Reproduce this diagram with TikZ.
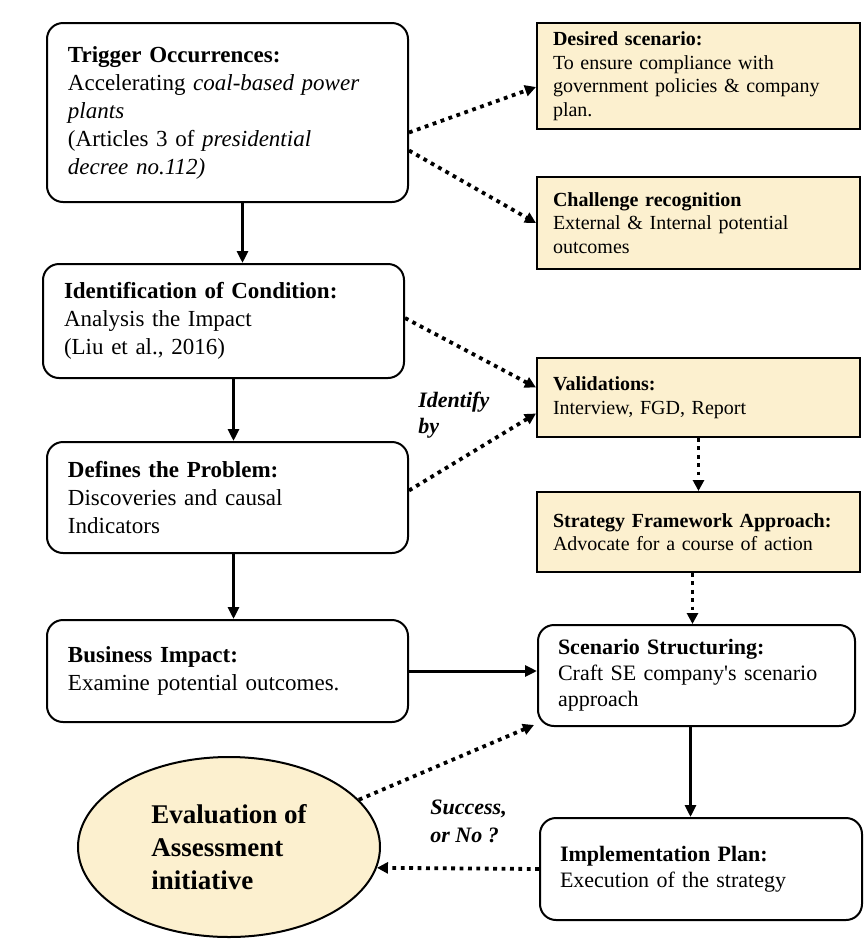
\documentclass[tikz,border=0pt]{standalone}
\usepackage{fontspec}
\setmainfont{Liberation Serif}
\usetikzlibrary{arrows.meta,shapes.geometric}
\definecolor{notefill}{RGB}{252,240,207}

\begin{document}
\begin{tikzpicture}[x=0.5pt,y=-0.5pt,
        stepbox/.style={draw, line width=1pt, rounded corners=8pt, align=left,
            inner xsep=10.5pt, text width=159.5pt,
            font=\fontsize{11.5}{14}\selectfont},
        notebox/.style={draw, line width=1pt, fill=notefill, align=left,
            inner xsep=8pt, text width=145.5pt,
            font=\fontsize{10}{11.8}\selectfont},
        flow/.style={line width=1.5pt, -{Triangle[length=6pt,width=5.5pt]}},
        hint/.style={line width=1.9pt, dash pattern=on 1.9pt off 2.3pt,
            -{Triangle[length=5.5pt,width=5.5pt]}},
        cue/.style={align=left, inner sep=0pt, anchor=west,
            font=\bfseries\itshape\fontsize{11}{13}\selectfont}]
    \useasboundingbox (0,0) rectangle (865,944);

    % left column
    \node[stepbox, minimum height=89.5pt] (trig) at (227.5,112.5)
        {\textbf{Trigger Occurrences:}\\
         Accelerating \textit{coal-based power}\\
         \textit{plants}\\
         (Articles 3 of \textit{presidential}\\
         \textit{decree no.112)}};
    \node[stepbox, minimum height=57pt] (ident) at (223.5,321)
        {\textbf{Identification of Condition:}\\
         Analysis the Impact\\
         (Liu et al., 2016)};
    \node[stepbox, minimum height=55.5pt] (defn) at (227.5,497.5)
        {\textbf{Defines the Problem:}\\
         Discoveries and causal\\
         Indicators};
    \node[stepbox, minimum height=51pt] (biz) at (227.5,671)
        {\textbf{Business Impact:}\\
         Examine potential outcomes.};
    \node[ellipse, draw, line width=1pt, fill=notefill, align=left,
          minimum width=151pt, minimum height=90pt,
          font=\bfseries\fontsize{13.5}{16.5}\selectfont] (eval) at (229,847)
        {Evaluation of\\ Assessment\\ initiative};

    % right column
    \node[notebox, minimum height=53pt] (desire) at (698.5,76)
        {\textbf{Desired scenario:}\\
         To ensure compliance with\\
         government policies \& company\\
         plan.};
    \node[notebox, minimum height=46pt] (chall) at (698.5,223)
        {\textbf{Challenge recognition}\\
         External \& Internal potential\\
         outcomes};
    \node[notebox, minimum height=39.5pt] (valid) at (698.5,397.5)
        {\textbf{Validations:}\\
         Interview, FGD, Report};
    \node[notebox, minimum height=40pt] (frame) at (698.5,532)
        {\textbf{Strategy Framework Approach:}\\
         Advocate for a course of action};
    \node[stepbox, minimum height=50.5pt, inner xsep=10pt, text width=138.5pt,
          font=\fontsize{11}{13}\selectfont] (struct) at (696.5,675.5)
        {\textbf{Scenario Structuring:}\\
         Craft SE company\textquotesingle s scenario\\
         approach};
    \node[stepbox, minimum height=51pt, inner xsep=10pt, text width=141pt,
          font=\fontsize{11}{13}\selectfont] (impl) at (701,869)
        {\textbf{Implementation Plan:}\\
         Execution of the strategy};

    \node[cue] (idby) at (418,415) {Identify\\by};
    \node[cue, font=\bfseries\itshape\fontsize{11}{14}\selectfont] (yesno) at (430,821)
        {Success,\\or No ?};

    % connectors
    \draw[flow] ([xshift=7.5pt]trig.south) -- ([xshift=7.5pt]trig.south |- ident.north);
    \draw[flow] ([xshift=5pt]ident.south) -- ([xshift=5pt]ident.south |- defn.north);
    \draw[flow] ([xshift=3pt]defn.south) -- ([xshift=3pt]defn.south |- biz.north);
    \draw[flow] (biz.east) -- (biz.east -| struct.west);
    \draw[flow] ([xshift=-3pt]struct.south) -- ([xshift=-3pt]struct.south |- impl.north);

    \draw[hint] ([yshift=-10pt]trig.east) -- ([yshift=-5.5pt]desire.west);
    \draw[hint] ([yshift=-19pt]trig.east) -- (chall.west);
    \draw[hint] ([yshift=1.5pt]ident.east) -- ([yshift=5pt]valid.west);
    \draw[hint] ([yshift=3.5pt]defn.east) -- ([yshift=-8pt]valid.west);
    \draw[hint] (valid) -- (frame);
    \draw[hint] ([xshift=-3pt]frame.south) -- ([xshift=-3pt]frame.south |- struct.north);
    \draw[hint] (impl.west) -- (eval.-8);
    \draw[hint] (eval.20) -- ([xshift=-1.5pt,yshift=1pt]struct.south west);
\end{tikzpicture}
\end{document}
